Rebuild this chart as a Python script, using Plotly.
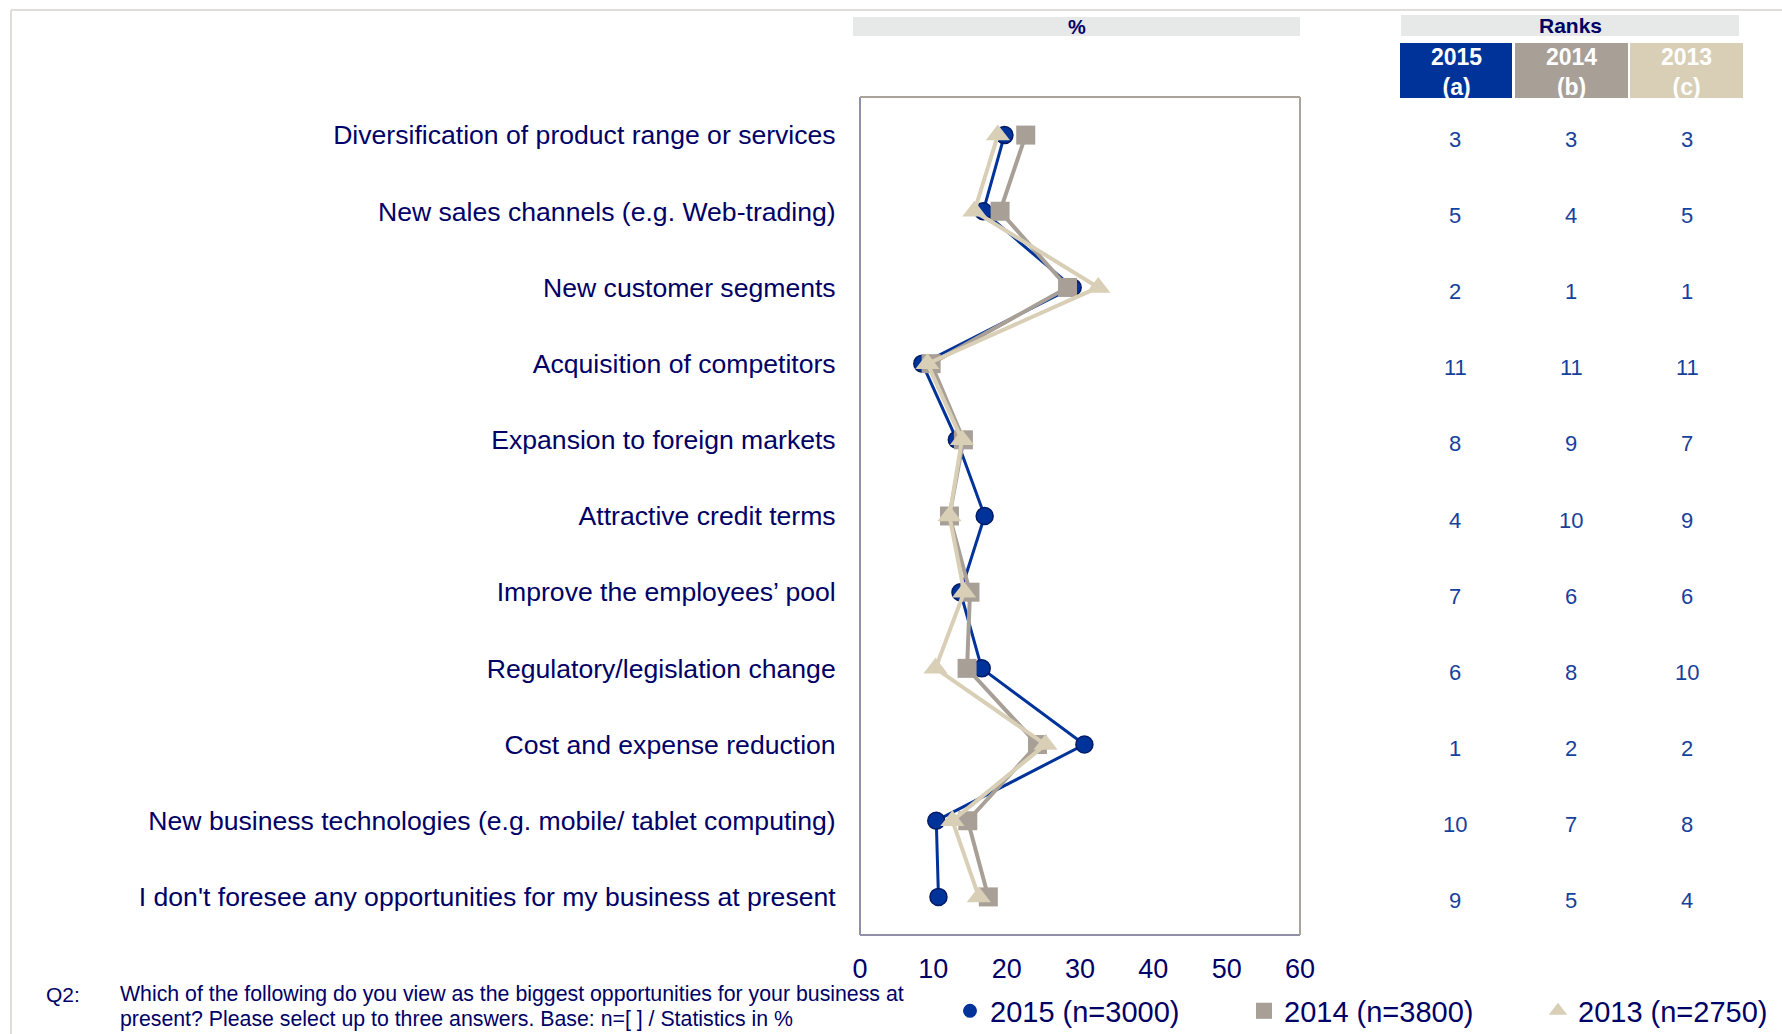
import plotly.graph_objects as go

# ---------------- data ----------------
categories = [
    "Diversification of product range or services",
    "New sales channels (e.g. Web-trading)",
    "New customer segments",
    "Acquisition of competitors",
    "Expansion to foreign markets",
    "Attractive credit terms",
    "Improve the employees\u2019 pool",
    "Regulatory/legislation change",
    "Cost and expense reduction",
    "New business technologies (e.g. mobile/ tablet computing)",
    "I don't foresee any opportunities for my business at present",
]
values_2015 = [19.7, 16.8, 29.0, 8.5, 13.2, 17.0, 13.7, 16.6, 30.6, 10.4, 10.7]
values_2014 = [22.6, 19.1, 28.3, 9.7, 14.1, 12.2, 15.0, 14.6, 24.2, 14.7, 17.5]
values_2013 = [18.8, 15.6, 32.5, 9.2, 13.9, 12.2, 14.2, 10.3, 25.3, 12.6, 16.2]

ranks_2015 = [3, 5, 2, 11, 8, 4, 7, 6, 1, 10, 9]
ranks_2014 = [3, 4, 1, 11, 9, 10, 6, 8, 2, 7, 5]
ranks_2013 = [3, 5, 1, 11, 7, 9, 6, 10, 2, 8, 4]

series_names = ["2015 (n=3000)", "2014 (n=3800)", "2013 (n=2750)"]
rank_headers = ["2015<br>(a)", "2014<br>(b)", "2013<br>(c)"]
x_ticks = [0, 10, 20, 30, 40, 50, 60]
footer_lines = [
    "Which of the following do you view as the biggest opportunities for your business at",
    "present? Please select up to three answers. Base: n=[ ] / Statistics in %",
]

# ---------------- styling ----------------
W, H = 1782, 1034
L, R, T, B = 860, 1300, 97, 935  # plot area in pixels
NAVY = "#000066"
BLUE = "#003399"
GRAY = "#a8a097"
BEIGE = "#d8cfb6"
RANKC = "#16419b"
FONT = "Liberation Sans, Arial, sans-serif"


def px(x):
    return (x - L) / (R - L)


def py(y):
    return 1 - (y - T) / (B - T)


fig = go.Figure()

fig.add_trace(go.Scatter(
    x=values_2015, y=categories, mode="lines+markers", showlegend=False,
    line=dict(color=BLUE, width=3),
    marker=dict(symbol="circle", size=17, color=BLUE, line=dict(color="#001a66", width=1.5)),
))
fig.add_trace(go.Scatter(
    x=values_2014, y=categories, mode="lines+markers", showlegend=False,
    line=dict(color=GRAY, width=4),
    marker=dict(symbol="square", size=19, color=GRAY, line=dict(width=0)),
))
fig.add_trace(go.Scatter(
    x=values_2013, y=categories, mode="lines+markers", showlegend=False,
    line=dict(color=BEIGE, width=4),
    marker=dict(symbol="triangle-up", size=21, color=BEIGE, line=dict(width=0)),
))

# legend-only entries (markers only), each in its own legend box
legend_ids = ["legend", "legend2", "legend3"]
legend_x = [950, 1244, 1538]
for name, sym, col, sz, lid in zip(series_names, ["circle", "square", "triangle-up"],
                                   [BLUE, GRAY, BEIGE], [14, 16, 20], legend_ids):
    fig.add_trace(go.Scatter(
        x=[None], y=[None], mode="markers", name=name, showlegend=True, legend=lid,
        marker=dict(symbol=sym, size=sz, color=col),
    ))

shapes = []
# outer light frame (top and left)
shapes.append(dict(type="line", xref="paper", yref="paper",
                   x0=px(11), x1=px(W + 5), y0=py(10), y1=py(10),
                   line=dict(color="#e0dcd8", width=2)))
shapes.append(dict(type="line", xref="paper", yref="paper",
                   x0=px(11), x1=px(11), y0=py(10), y1=py(H + 5),
                   line=dict(color="#e0dcd8", width=2)))
# plot box
shapes.append(dict(type="line", xref="paper", yref="paper", x0=0, x1=0, y0=0, y1=1,
                   line=dict(color="#8f8fa6", width=2)))
shapes.append(dict(type="line", xref="paper", yref="paper", x0=0, x1=1, y0=0, y1=0,
                   line=dict(color="#8f8fa6", width=2)))
shapes.append(dict(type="line", xref="paper", yref="paper", x0=0, x1=1, y0=1, y1=1,
                   line=dict(color="#aaa39b", width=2)))
shapes.append(dict(type="line", xref="paper", yref="paper", x0=1, x1=1, y0=0, y1=1,
                   line=dict(color="#aaa39b", width=2)))
# header bars
shapes.append(dict(type="rect", xref="paper", yref="paper",
                   x0=px(853), x1=px(1300), y0=py(36), y1=py(17),
                   fillcolor="#e6e9e8", line=dict(width=0), layer="below"))
shapes.append(dict(type="rect", xref="paper", yref="paper",
                   x0=px(1401), x1=px(1739), y0=py(36), y1=py(15),
                   fillcolor="#e6e9e8", line=dict(width=0), layer="below"))
box_x = [(1400, 1512), (1515, 1628), (1630, 1743)]
box_cols = [BLUE, GRAY, BEIGE]
for (a, b), c in zip(box_x, box_cols):
    shapes.append(dict(type="rect", xref="paper", yref="paper",
                       x0=px(a), x1=px(b), y0=py(98), y1=py(43),
                       fillcolor=c, line=dict(width=0), layer="below"))

annotations = []
annotations.append(dict(text="<b>%</b>", xref="paper", yref="paper", x=px(1076.5), y=py(27),
                        showarrow=False, font=dict(family=FONT, size=20, color=NAVY),
                        xanchor="center", yanchor="middle"))
annotations.append(dict(text="<b>Ranks</b>", xref="paper", yref="paper", x=px(1570), y=py(26),
                        showarrow=False, font=dict(family=FONT, size=21, color=NAVY),
                        xanchor="center", yanchor="middle"))
for (a, b), hdr in zip(box_x, rank_headers):
    annotations.append(dict(text="<b>" + hdr.replace("<br>", "</b><br><b>") + "</b>",
                            xref="paper", yref="paper", x=px((a + b) / 2), y=py(72),
                            showarrow=False, font=dict(family=FONT, size=23, color="white"),
                            xanchor="center", yanchor="middle"))

rank_cols_x = [1455, 1571, 1687]
for cx, rk in zip(rank_cols_x, [ranks_2015, ranks_2014, ranks_2013]):
    for cat, r in zip(categories, rk):
        annotations.append(dict(text=str(r), xref="paper", yref="y", x=px(cx), y=cat,
                                yshift=-4, showarrow=False,
                                font=dict(family=FONT, size=22, color=RANKC),
                                xanchor="center", yanchor="middle"))

# footer
annotations.append(dict(text="Q2:", xref="paper", yref="paper", x=px(44), y=py(994),
                        showarrow=False, font=dict(family=FONT, size=21, color=NAVY),
                        xanchor="left", yanchor="middle"))
for line, yy in zip(footer_lines, [994, 1019]):
    annotations.append(dict(
        text=line, xref="paper", yref="paper", x=px(118), y=py(yy), align="left",
        showarrow=False, font=dict(family=FONT, size=21.3, color=NAVY),
        xanchor="left", yanchor="middle"))

legend_common = dict(orientation="h", yanchor="middle", xanchor="left",
                     y=py(1011), itemsizing="trace", bgcolor="rgba(0,0,0,0)",
                     font=dict(family=FONT, size=29, color=NAVY))

fig.update_layout(
    width=W, height=H,
    margin=dict(l=L, r=W - R, t=T, b=H - B, pad=0, autoexpand=False),
    paper_bgcolor="white", plot_bgcolor="white",
    font=dict(family=FONT, color=NAVY),
    xaxis=dict(range=[0, 60], tickvals=x_ticks, ticktext=[str(v) for v in x_ticks],
               showgrid=False, zeroline=False, showline=False, automargin=False,
               ticks="outside", ticklen=10, tickcolor="rgba(0,0,0,0)",
               tickfont=dict(family=FONT, size=27, color=NAVY), fixedrange=True),
    yaxis=dict(type="category", categoryorder="array", categoryarray=categories,
               range=[10.5, -0.5], showgrid=False, zeroline=False, showline=False,
               automargin=False,
               ticks="outside", ticklen=18, tickcolor="rgba(0,0,0,0)",
               tickfont=dict(family=FONT, size=26.6, color=NAVY), fixedrange=True),
    shapes=shapes, annotations=annotations,
    legend=dict(x=px(legend_x[0]), **legend_common),
    legend2=dict(x=px(legend_x[1]), **legend_common),
    legend3=dict(x=px(legend_x[2]), **legend_common),
    showlegend=True,
)

fig.write_html("out.html", config={"displayModeBar": False},
               post_script="document.body.style.margin='0';document.body.style.overflow='hidden';")
